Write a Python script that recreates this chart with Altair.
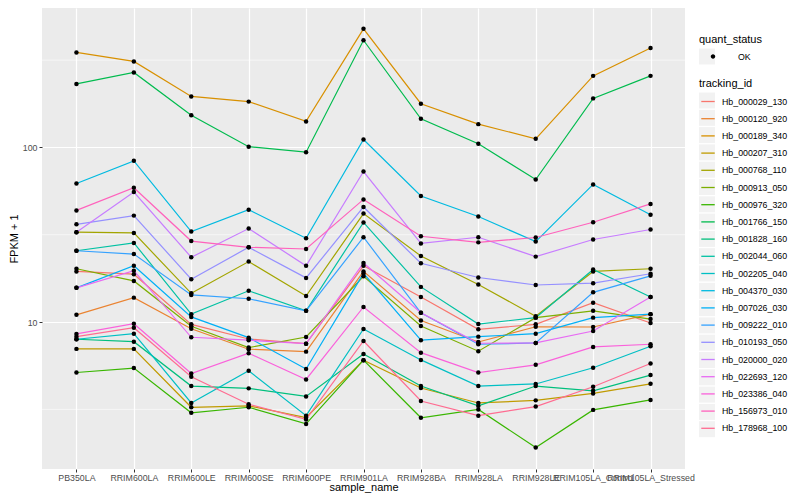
import altair as alt
import pandas as pd

samples = ["PB350LA", "RRIM600LA", "RRIM600LE", "RRIM600SE", "RRIM600PE", "RRIM901LA",
           "RRIM928BA", "RRIM928LA", "RRIM928LE", "RRIM105LA_Control", "RRIM105LA_Stressed"]

ids = ["Hb_000029_130", "Hb_000120_920", "Hb_000189_340", "Hb_000207_310", "Hb_000768_110",
       "Hb_000913_050", "Hb_000976_320", "Hb_001766_150", "Hb_001828_160", "Hb_002044_060",
       "Hb_002205_040", "Hb_004370_030", "Hb_007026_030", "Hb_009222_010", "Hb_010193_050",
       "Hb_020000_020", "Hb_022693_120", "Hb_023386_040", "Hb_156973_010", "Hb_178968_100"]

colors = ["#F8766D", "#EA8331", "#D89000", "#C09B00", "#A3A500", "#7CAE00", "#39B600", "#00BB4E",
          "#00BF7D", "#00C1A3", "#00BFC4", "#00BAE0", "#00B0F6", "#35A2FF", "#9590FF", "#C77CFF",
          "#E76BF3", "#FA62DB", "#FF62BC", "#FF6C91"]

status = ["OK"]

# FPKM + 1 per gene, one value per sample (in sample order)
Hb_000029_130 = [19.5, 18.8, 9.70, 8.00, 7.52, 21.0, 13.9, 9.09, 9.70, 12.9, 9.87]
Hb_000120_920 = [11.0, 13.8, 9.16, 6.99, 6.77, 19.5, 10.2, 7.69, 9.40, 9.37, 11.1]
Hb_000189_340 = [350, 311, 196, 183, 141, 478, 178, 136, 112, 257, 371]
Hb_000207_310 = [7.02, 7.02, 3.25, 3.31, 2.84, 6.05, 4.19, 3.44, 3.56, 3.90, 4.43]
Hb_000768_110 = [32.7, 32.4, 14.6, 22.2, 14.1, 41.8, 23.9, 16.4, 10.8, 19.5, 20.2]
Hb_000913_050 = [20.2, 17.2, 9.45, 7.14, 8.21, 18.3, 9.49, 6.81, 10.6, 11.6, 10.4]
Hb_000976_320 = [5.14, 5.45, 3.02, 3.25, 2.61, 6.05, 2.83, 3.16, 1.91, 3.14, 3.58]
Hb_001766_150 = [231, 269, 153, 101, 93.9, 411, 146, 105, 65.5, 191, 257]
Hb_001828_160 = [7.97, 7.72, 4.30, 4.17, 3.75, 6.57, 4.30, 3.31, 4.30, 4.04, 4.97]
Hb_002044_060 = [25.6, 28.4, 11.1, 15.1, 11.6, 37.2, 15.9, 9.74, 10.6, 20.0, 13.9]
Hb_002205_040 = [7.97, 8.58, 3.44, 5.26, 2.91, 9.12, 6.07, 4.30, 4.42, 5.47, 7.27]
Hb_004370_030 = [62.2, 83.8, 33.0, 44.0, 30.2, 111, 52.7, 40.2, 28.9, 61.4, 41.2]
Hb_007026_030 = [15.7, 21.0, 10.7, 8.14, 5.38, 19.0, 7.87, 8.25, 8.58, 10.6, 11.1]
Hb_009222_010 = [25.6, 24.5, 14.3, 13.6, 11.6, 30.6, 11.3, 7.46, 7.59, 14.8, 18.4]
Hb_010193_050 = [36.3, 40.7, 17.6, 26.8, 17.9, 45.6, 21.7, 18.0, 16.3, 16.7, 18.9]
Hb_020000_020 = [32.7, 55.5, 23.5, 34.3, 21.0, 72.8, 28.2, 30.6, 23.7, 29.7, 33.9]
Hb_022693_120 = [15.7, 19.7, 8.18, 7.87, 7.52, 21.8, 11.3, 7.56, 7.59, 8.89, 13.9]
Hb_023386_040 = [8.55, 9.78, 5.07, 6.63, 4.69, 12.2, 6.68, 5.14, 5.69, 7.20, 7.46]
Hb_156973_010 = [43.6, 58.8, 29.1, 26.8, 26.2, 50.4, 31.0, 28.6, 30.5, 37.3, 47.5]
Hb_178968_100 = [8.25, 9.28, 4.86, 3.38, 2.77, 7.79, 3.53, 2.91, 3.28, 4.26, 5.79]

series = [Hb_000029_130, Hb_000120_920, Hb_000189_340, Hb_000207_310, Hb_000768_110,
          Hb_000913_050, Hb_000976_320, Hb_001766_150, Hb_001828_160, Hb_002044_060,
          Hb_002205_040, Hb_004370_030, Hb_007026_030, Hb_009222_010, Hb_010193_050,
          Hb_020000_020, Hb_022693_120, Hb_023386_040, Hb_156973_010, Hb_178968_100]

y_ticks = [10, 100]
minor_ticks = [3.1623, 31.623, 316.23]

rows = []
for gid, vals in zip(ids, series):
    for s, v in zip(samples, vals):
        rows.append({"tracking_id": gid, "sample_name": s, "fpkm1": v, "quant_status": "OK"})
df = pd.DataFrame(rows)
minor_df = pd.DataFrame({"m": minor_ticks})

FONT = "Liberation Sans"
KEY_BG = "#F2F2F2"
LX = 657          # legend left, relative to the plot area
Q_Y = 26          # quant_status legend top
T_Y = 70          # tracking_id legend top
KEY = 256         # key box area (16 x 16)

axis_common = dict(grid=True, gridColor="white", gridWidth=1.2, tickColor="#333333", tickSize=3,
                   labelColor="#4D4D4D", labelFontSize=8.8, labelFont=FONT,
                   titleFont=FONT, titleFontSize=11, titleFontWeight="normal",
                   titleColor="black", domain=False)

x_enc = alt.X("sample_name:N", sort=samples, title="sample_name",
              scale=alt.Scale(type="point", padding=0.6),
              axis=alt.Axis(labelAngle=0, labelOverlap=False, labelBound=False, labelLimit=300,
                            labelPadding=1, titlePadding=0, **axis_common))
y_scale = alt.Scale(type="log", domain=[1.44, 629], nice=False)
y_enc = alt.Y("fpkm1:Q", title="FPKM + 1", scale=y_scale,
              axis=alt.Axis(values=y_ticks, format="d", labelPadding=2, titlePadding=3, **axis_common))

legend_base = dict(orient="none", legendX=LX, padding=0, titlePadding=3.5,
                   symbolSize=KEY, titleFont=FONT, titleFontSize=11,
                   titleFontWeight="normal", titleColor="black", labelFont=FONT,
                   labelFontSize=8.8, labelColor="black")
legend_common = dict(legend_base, labelOffset=5)

# grey key boxes (drawn under the legend symbols); their own domains keep them as separate legends
box_status = ["ok"]
box_ids = ids[::-1]
key_boxes = alt.Chart(df).transform_filter("false").mark_point(filled=True, color=KEY_BG, opacity=1).encode(
    x=x_enc, y=y_enc,
    shape=alt.Shape("quant_status:N", scale=alt.Scale(domain=box_status, range=["square"]),
                    legend=alt.Legend(title="quant_status", legendY=Q_Y, symbolType="square",
                                      symbolFillColor=KEY_BG, symbolStrokeColor=KEY_BG,
                                      symbolStrokeWidth=0, symbolOpacity=1, labelExpr="''",
                                      titleOpacity=0, zindex=1, rowPadding=1.3, **legend_common)),
    opacity=alt.Opacity("tracking_id:O", scale=alt.Scale(domain=box_ids, range=[1.0] * len(ids)),
                        legend=alt.Legend(title="tracking_id", legendY=T_Y, symbolType="square",
                                          symbolFillColor=KEY_BG, symbolStrokeColor=KEY_BG,
                                          symbolStrokeWidth=0, symbolOpacity=1, labelExpr="''",
                                          titleOpacity=0, zindex=1, rowPadding=1.3, **legend_common)),
)

# legend holder for the point legend, so it comes first
dot_path = "M-0.28,0A0.28,0.28 0 1,0 0.28,0A0.28,0.28 0 1,0 -0.28,0Z"
point_legend = alt.Chart(df).transform_filter("false").mark_point(filled=True, shape="circle").encode(
    x=x_enc, y=y_enc,
    fill=alt.Fill("quant_status:N", scale=alt.Scale(domain=status, range=["black"]),
                  legend=alt.Legend(title="quant_status", legendY=Q_Y, symbolType=dot_path,
                                    symbolFillColor="black", symbolStrokeWidth=0, symbolOpacity=1,
                                    symbolOffset=6, labelOffset=17,
                                    zindex=2, rowPadding=1.3, **legend_base)),
)

minor = alt.Chart(minor_df).mark_rule(color="white", strokeWidth=0.6).encode(
    y=alt.Y("m:Q", scale=y_scale))

lines = alt.Chart(df).mark_line(strokeWidth=1.2).encode(
    x=x_enc, y=y_enc,
    stroke=alt.Stroke("tracking_id:N", scale=alt.Scale(domain=ids, range=colors),
                      legend=alt.Legend(title="tracking_id", legendY=T_Y, symbolType="M-0.84,0H0.84",
                                        symbolStrokeWidth=1.3, zindex=2, rowPadding=3.2,
                                        **legend_common)),
)

points = alt.Chart(df).mark_point(filled=True, shape="circle", size=20, opacity=1, color="black").encode(
    x=x_enc, y=y_enc,
)

chart = alt.layer(point_legend, key_boxes, minor, lines, points).properties(
    width=643, height=461, padding={"left": 0, "top": 0, "right": 0, "bottom": 0}
).configure_view(fill="#EBEBEB", stroke=None)

chart.save("out.html", embed_options={"renderer": "svg", "actions": False})
